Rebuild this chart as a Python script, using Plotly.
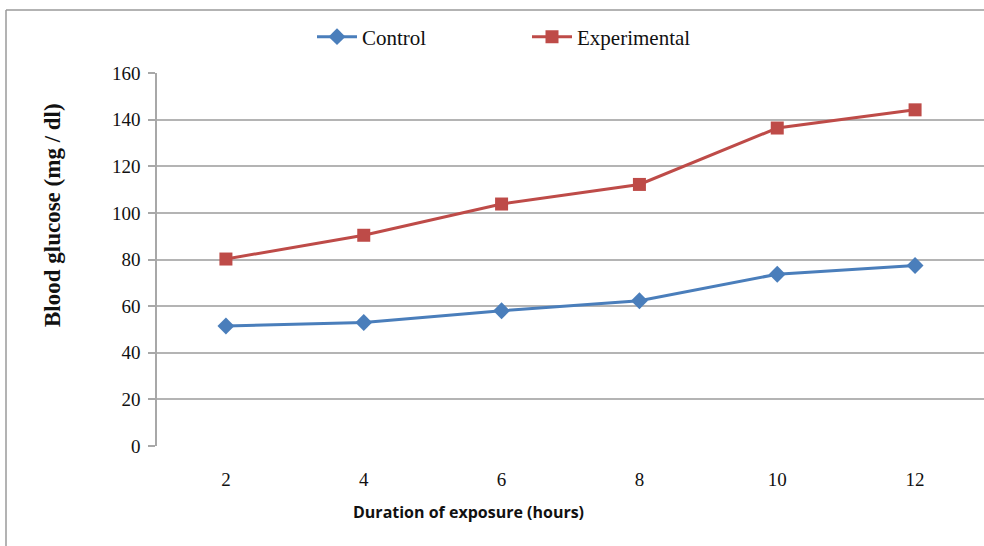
import plotly.graph_objects as go

# Blood glucose over exposure time
hours = [2, 4, 6, 8, 10, 12]
control = [51.5, 53.0, 58.0, 62.3, 73.7, 77.4]
experimental = [80.2, 90.4, 103.8, 112.2, 136.4, 144.2]
y_ticks = [0, 20, 40, 60, 80, 100, 120, 140, 160]

W, H = 984, 546
L, R, T, B = 157, 0, 73, 100
pw, ph = W - L - R, H - T - B


def px_x(p):
    return (p - L) / pw


def px_y(p):
    return (H - B - p) / ph


serif = "Liberation Serif"
sans = "Open Sans"

fig = go.Figure()
fig.add_trace(go.Scatter(
    x=hours, y=control, name="Control", mode="lines+markers",
    line=dict(color="#4A7EBB", width=3),
    marker=dict(symbol="diamond", size=13, color="#4A7EBB"),
))
fig.add_trace(go.Scatter(
    x=hours, y=experimental, name="Experimental", mode="lines+markers",
    line=dict(color="#BE4B48", width=3),
    marker=dict(symbol="square", size=13, color="#BE4B48"),
))

fig.update_layout(
    width=W, height=H,
    margin=dict(l=L, r=R, t=T, b=B),
    paper_bgcolor="white", plot_bgcolor="white",
    showlegend=True,
    legend=dict(
        orientation="h", x=px_x(312), y=px_y(37), xanchor="left", yanchor="middle",
        font=dict(family=serif, size=21, color="#111"),
        entrywidth=160, entrywidthmode="pixels", itemwidth=40,
        bgcolor="rgba(0,0,0,0)", traceorder="normal",
    ),
    xaxis=dict(
        range=[1, 13], tickmode="array", tickvals=hours, ticktext=[str(h) for h in hours],
        showgrid=False, zeroline=False, showline=False, ticks="",
        tickfont=dict(family=serif, size=19, color="#111"),
        ticklabelstandoff=20,
    ),
    yaxis=dict(
        range=[0, 160], tickmode="array", tickvals=y_ticks,
        showgrid=True, gridcolor="#b4b4b4", gridwidth=1.5,
        zeroline=False, showline=True, linecolor="#a8a8a8", linewidth=1.5,
        ticks="outside", ticklen=7, tickcolor="#a8a8a8", tickwidth=1.5,
        tickfont=dict(family=serif, size=19, color="#111"),
        ticklabelstandoff=4,
    ),
    shapes=[
        # chart frame
        dict(type="line", xref="paper", yref="paper", x0=px_x(6), x1=px_x(6),
             y0=px_y(10), y1=px_y(560), line=dict(color="#9a9a9a", width=1.5)),
        dict(type="line", xref="paper", yref="paper", x0=px_x(6), x1=px_x(990),
             y0=px_y(10), y1=px_y(10), line=dict(color="#9a9a9a", width=1.5)),
    ],
    annotations=[
        dict(text="<b>Blood glucose (mg / dl)</b>", xref="paper", yref="paper",
             x=px_x(52), y=px_y(215), showarrow=False, textangle=-90,
             font=dict(family=serif, size=23, color="#111"),
             xanchor="center", yanchor="middle"),
        dict(text="<b>Duration of exposure (hours)</b>", xref="paper", yref="paper",
             x=px_x(468), y=px_y(512), showarrow=False,
             font=dict(family=sans, size=16, color="#111"),
             xanchor="center", yanchor="middle"),
    ],
)

fig.write_html("out.html")
